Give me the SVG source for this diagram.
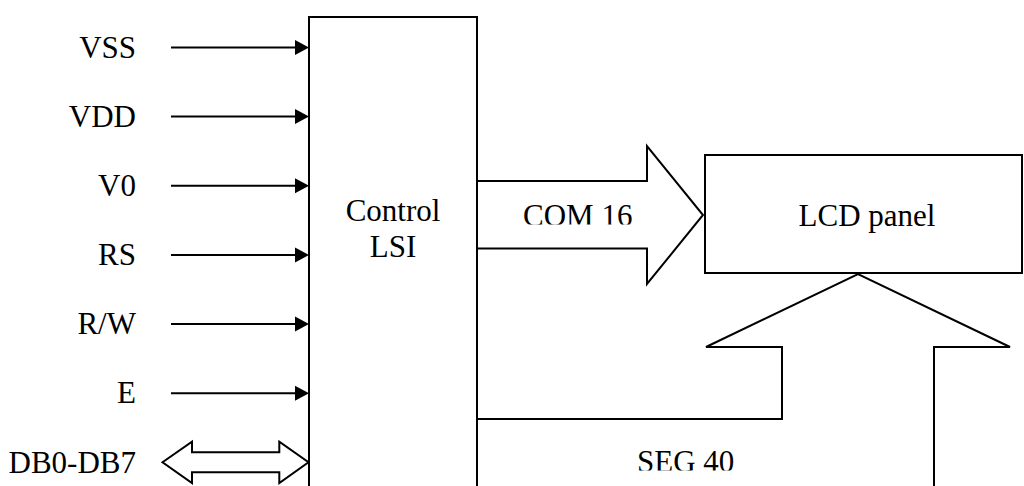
<svg xmlns="http://www.w3.org/2000/svg" width="1024" height="486" viewBox="0 0 1024 486">
  <style>
    .t { font-family: "Liberation Serif", "Times New Roman", Times, serif; font-size: 31px; fill: #000; }
    .ln { stroke: #000; stroke-width: 2; fill: none; }
    .box { stroke: #000; stroke-width: 2; fill: #fff; }
    .ah { fill: #000; stroke: none; }
    .lbl { text-anchor: end; }
  </style>
  <defs>
    <clipPath id="clipCom"><rect x="480" y="180" width="220" height="44.5"/></clipPath>
    <clipPath id="clipSeg"><rect x="480" y="425" width="440" height="45.5"/></clipPath>
  </defs>
  <rect width="1024" height="486" fill="#fff"/>

  <g id="control-lsi">
    <path class="box" d="M309,500 V17 H477 V500"/>
    <text class="t" x="393" y="221" text-anchor="middle">Control</text>
    <text class="t" x="393" y="257" text-anchor="middle">LSI</text>
  </g>

  <g id="lcd-panel">
    <rect class="box" x="705" y="155" width="317" height="118"/>
    <text class="t" x="867" y="226" text-anchor="middle">LCD panel</text>
  </g>

  <g id="labels">
    <text class="t lbl" x="136" y="57.5">VSS</text>
    <text class="t lbl" x="136" y="126.6">VDD</text>
    <text class="t lbl" x="136" y="195.8">V0</text>
    <text class="t lbl" x="136" y="264.9">RS</text>
    <text class="t lbl" x="136" y="334">R/W</text>
    <text class="t lbl" x="136" y="403.2">E</text>
    <text class="t lbl" x="136" y="473">DB0-DB7</text>
  </g>

  <g id="connectors">
    <line class="ln" x1="171" y1="47.5" x2="296" y2="47.5"/>
    <polygon class="ah" points="295,40 309,47.5 295,55"/>
    <line class="ln" x1="171" y1="116.6" x2="296" y2="116.6"/>
    <polygon class="ah" points="295,109.1 309,116.6 295,124.1"/>
    <line class="ln" x1="171" y1="185.8" x2="296" y2="185.8"/>
    <polygon class="ah" points="295,178.3 309,185.8 295,193.3"/>
    <line class="ln" x1="171" y1="254.9" x2="296" y2="254.9"/>
    <polygon class="ah" points="295,247.4 309,254.9 295,262.4"/>
    <line class="ln" x1="171" y1="324" x2="296" y2="324"/>
    <polygon class="ah" points="295,316.5 309,324 295,331.5"/>
    <line class="ln" x1="171" y1="393.2" x2="296" y2="393.2"/>
    <polygon class="ah" points="295,385.7 309,393.2 295,400.7"/>

    <polygon class="ln" points="162.5,462.3 192,441.7 192,452.3 279.3,452.3 279.3,441.7 308.5,462.3 279.3,483 279.3,472.3 192,472.3 192,483"/>

    <polyline class="ln" points="477,181 647,181 647,146 703,215 647,284 647,248.5 477,248.5"/>
    <polyline class="ln" points="477,419 782,419 782,347 706,347 858,274 1010,347 934,347 934,500"/>
  </g>

  <g id="bus-labels">
    <text class="t" x="523" y="226" clip-path="url(#clipCom)">COM 16</text>
    <text class="t" x="637" y="472" clip-path="url(#clipSeg)">SEG 40</text>
  </g>
</svg>
